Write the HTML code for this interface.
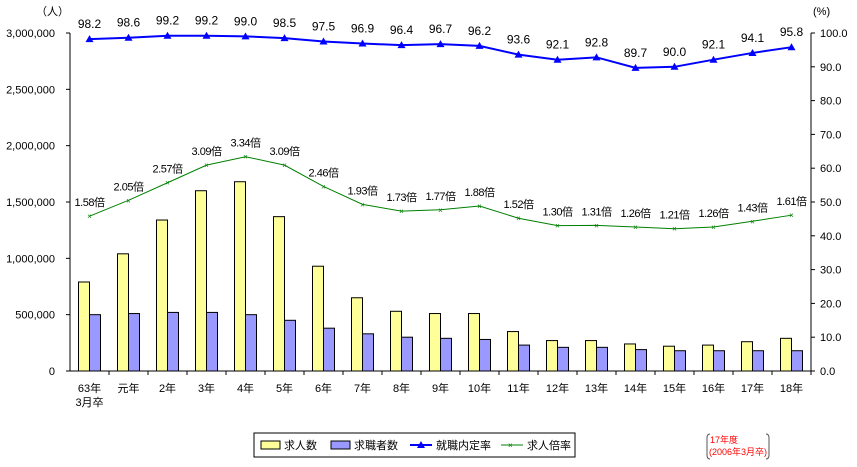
<!DOCTYPE html>
<html><head><meta charset="utf-8"><style>
body{margin:0;background:#fff;}
svg text{font-family:"Liberation Sans","Noto Sans CJK JP",sans-serif;}
</style></head><body>
<svg id="c" width="857" height="462" xmlns="http://www.w3.org/2000/svg">
<text x="36" y="15" font-size="11">（人）</text>
<text x="813" y="15" font-size="11">(%)</text>
<g id="axes"></g><g id="bars"></g><g id="lines"></g>
<g>
<rect x="254" y="433" width="321" height="24" fill="#fff" stroke="#000"/>
<g><rect x="261" y="441" width="19" height="8" fill="#ffff99" stroke="#000"/><text x="284" y="449" font-size="11">求人数</text></g>
<g><rect x="331" y="441" width="19" height="8" fill="#9999ff" stroke="#000"/><text x="354" y="449" font-size="11">求職者数</text></g>
<g><line x1="410" y1="445" x2="432" y2="445" stroke="#0000ff" stroke-width="2"/><path d="M421 441 L425 448 L417 448 Z" fill="#0000ff"/><text x="436" y="449" font-size="11">就職内定率</text></g>
<g><line x1="501" y1="445" x2="523" y2="445" stroke="#008000"/><text x="508" y="448" font-size="8" fill="#008000">×</text><text x="527" y="449" font-size="11">求人倍率</text></g>
</g>
<g>
<path d="M710 434 Q707 434 707 438 L707 455 Q707 459 710 459" fill="none" stroke="#555"/>
<path d="M766 434 Q769 434 769 438 L769 455 Q769 459 766 459" fill="none" stroke="#555"/>
<text x="710" y="443" font-size="9" fill="#ff0000">17年度</text>
<text x="709" y="455" font-size="9" fill="#ff0000">(2006年3月卒)</text>
</g>
</svg>
<script>
const categories=["63年|3月卒","元年","2年","3年","4年","5年","6年","7年","8年","9年","10年","11年","12年","13年","14年","15年","16年","17年","18年"];
const kyujin=[790000,1040000,1340000,1600000,1680000,1370000,930000,650000,530000,510000,510000,350000,270000,270000,240000,220000,230000,260000,290000];
const kyushoku=[500000,510000,520000,520000,500000,450000,380000,330000,300000,290000,280000,230000,210000,210000,190000,180000,180000,180000,180000];
const naitei=[98.2,98.6,99.2,99.2,99.0,98.5,97.5,96.9,96.4,96.7,96.2,93.6,92.1,92.8,89.7,90.0,92.1,94.1,95.8];
const bairitsu=[1.58,2.05,2.57,3.09,3.34,3.09,2.46,1.93,1.73,1.77,1.88,1.52,1.30,1.31,1.26,1.21,1.26,1.43,1.61];
const leftTicks=[0,500000,1000000,1500000,2000000,2500000,3000000];
const rightTicks=[0,10,20,30,40,50,60,70,80,90,100];
const NS="http://www.w3.org/2000/svg";
const X0=70,X1=811,Y0=371,Y1=33;
const step=(X1-X0)/categories.length;
const cx=i=>X0+step*(i+0.5);
const yL=v=>Y0-(v/3000000)*(Y0-Y1);
const yR=v=>Y0-(v/100)*(Y0-Y1);
const yB=r=>yR(30+10*r);
function mk(tag,attrs,parent,txt){const e=document.createElementNS(NS,tag);for(const k in attrs)e.setAttribute(k,attrs[k]);if(txt!==undefined)e.textContent=txt;parent.appendChild(e);return e;}
const ax=document.getElementById('axes'),bg=document.getElementById('bars'),lg=document.getElementById('lines');
let e;
e=mk('line',{x1:X0,y1:Y1,x2:X0,y2:Y0,stroke:'#000'},ax);


e=mk('line',{x1:X1,y1:Y1,x2:X1,y2:Y0,stroke:'#000'},ax);


e=mk('line',{x1:X0,y1:Y0,x2:X1,y2:Y0,stroke:'#000'},ax);


leftTicks.forEach(v=>{mk('line',{x1:X0-4,x2:X0,y1:yL(v),y2:yL(v),stroke:'#000'},ax);
e=mk('text',{x:X0-15,y:yL(v)+4,'font-size':11,'text-anchor':'end'},ax,v.toLocaleString('en-US'));

});
rightTicks.forEach(v=>{mk('line',{x1:X1,x2:X1+4,y1:yR(v),y2:yR(v),stroke:'#000'},ax);
e=mk('text',{x:X1+9,y:yR(v)+4,'font-size':11},ax,v.toFixed(1));

});
categories.forEach((c,i)=>{mk('line',{x1:X0+step*(i+1),x2:X0+step*(i+1),y1:Y0,y2:Y0+4,stroke:'#000'},ax);
c.split('|').forEach((p,j)=>{e=mk('text',{x:cx(i),y:392+j*14,'font-size':11,'text-anchor':'middle'},ax,p);

});});
const bw=11;
kyujin.forEach((v,i)=>{e=mk('rect',{x:cx(i)-bw,y:yL(v),width:bw,height:Y0-yL(v),fill:'#ffff99',stroke:'#000'},bg);

});
kyushoku.forEach((v,i)=>{e=mk('rect',{x:cx(i),y:yL(v),width:bw,height:Y0-yL(v),fill:'#9999ff',stroke:'#000'},bg);

});
e=mk('polyline',{points:bairitsu.map((v,i)=>cx(i)+','+yB(v)).join(' '),fill:'none',stroke:'#008000'},lg);


bairitsu.forEach((v,i)=>{mk('text',{x:cx(i),y:yB(v)+3,'font-size':8,fill:'#008000','text-anchor':'middle'},lg,'×');
e=mk('text',{x:cx(i),y:yB(v)-10,'font-size':11,'text-anchor':'middle','letter-spacing':'-0.5'},lg,v.toFixed(2)+'倍');

});
e=mk('polyline',{points:naitei.map((v,i)=>cx(i)+','+yR(v)).join(' '),fill:'none',stroke:'#0000ff','stroke-width':2},lg);


naitei.forEach((v,i)=>{const y=yR(v);mk('path',{d:`M${cx(i)} ${y-4} L${cx(i)+4} ${y+3} L${cx(i)-4} ${y+3} Z`,fill:'#0000ff'},lg);
e=mk('text',{x:cx(i),y:y-11,'font-size':12,'text-anchor':'middle'},lg,v.toFixed(1));

});
</script>
</body></html>
